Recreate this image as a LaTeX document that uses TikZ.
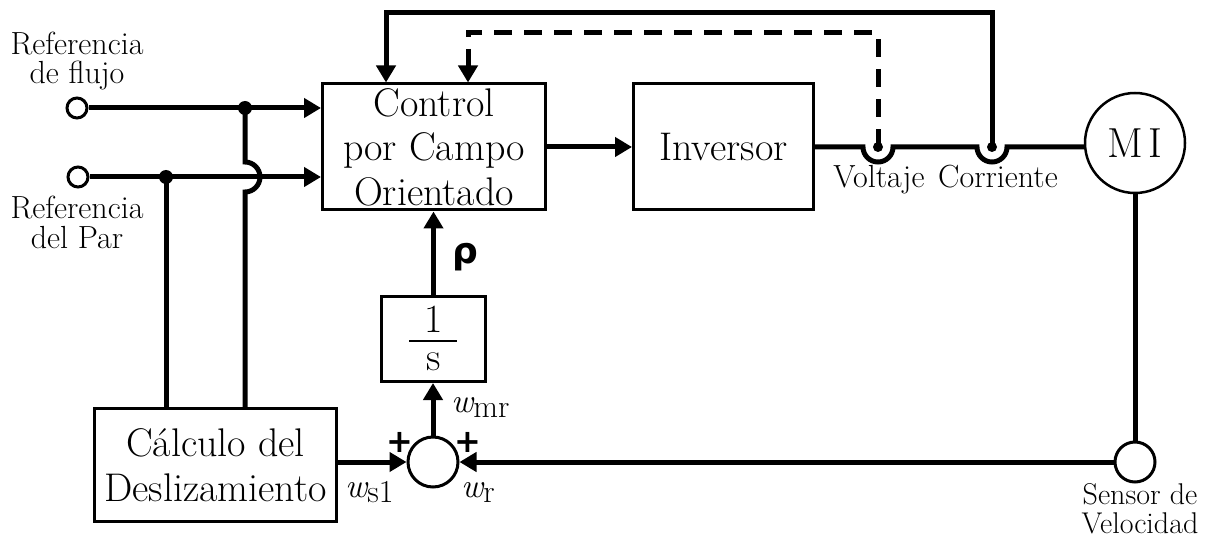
\documentclass[tikz,border=0pt]{standalone}
\usepackage{fontspec}
\newfontfamily\dv{DejaVu Sans}
\usetikzlibrary{arrows.meta,calc}
\tikzset{
 conn/.style={line width=5pt},
 arr/.style={conn,-{Triangle[length=17pt,width=19pt]}},
 blk/.style={draw,line width=3pt,rectangle,inner sep=0pt},
 big/.style={font=\fontsize{40pt}{44.5pt}\selectfont},
 small/.style={font=\fontsize{32pt}{29pt}\selectfont},
 term/.style={circle,draw,line width=3pt,minimum size=20pt,inner sep=0pt,fill=white},
 jdot/.style={circle,fill=black,minimum size=14pt,inner sep=0pt},
 sdot/.style={circle,fill=black,minimum size=10pt,inner sep=0pt},
 plussign/.style={font={\fontsize{32pt}{32pt}\selectfont\dv\bfseries},inner sep=0pt},
 wlbl/.style={anchor=base west,inner sep=0pt},
}
\newcommand\wlab[1]{{\fontsize{34pt}{34pt}\selectfont\itshape w}{\fontsize{32pt}{32pt}\selectfont\raisebox{-5pt}{#1}}}
\begin{document}
\begin{tikzpicture}[x=1pt,y=-1pt]
\useasboundingbox (0,0) rectangle (1216,548);
% blocks
\node[blk,big,minimum width=223pt,minimum height=126pt,align=center] (ctrl) at (434,147) {Control\\por Campo\\Orientado};
\node[blk,big,minimum width=180pt,minimum height=126pt] (inv) at (723.5,147) {Inversor};
\node[circle,draw,line width=2.5pt,minimum size=100pt,inner sep=0pt,font=\fontsize{42pt}{44pt}\selectfont] (mi) at (1135,143) {M\hspace{5pt}I};
\node[circle,draw,line width=3pt,minimum size=40pt,inner sep=0pt] (sens) at (1135,462) {};
\node[align=center,font=\fontsize{30pt}{29pt}\selectfont,inner sep=0pt] (senslbl) at (1140,509) {Sensor de\\Velocidad};
\node[circle,draw,line width=3pt,minimum size=50pt,inner sep=0pt] (sum) at (433,462) {};
\node[blk,minimum width=104pt,minimum height=85pt] (int) at (433.5,339) {};
\node[big,inner sep=0pt] (one) at (433.5,319) {1};
\node[big,inner sep=0pt] (ess) at (433.5,362) {s};
\coordinate (barL) at (409,341);
\coordinate (barR) at (457,341);
\draw[line width=2pt] (barL) -- (barR);
\node[blk,big,align=center,minimum width=242pt,minimum height=113pt] (calc) at (215.5,465) {Cálculo del\\Deslizamiento};
% terminals and labels
\node[term] (tf) at (77,108) {};
\node[term] (tp) at (78,177) {};
\node[small,align=center] (lf) at (77,61) {Referencia\\de flujo};
\node[small,align=center,font=\fontsize{32pt}{30pt}\selectfont] (lp) at (77,222) {Referencia\\del Par};
\node[jdot] (df) at (245,108) {};
\node[jdot] (dp) at (166,177) {};
\node[sdot] (vdot) at (878,147) {};
\node[sdot] (cdot) at (992,147) {};
% left connections
\draw[arr] (tf) -- (df.center) -- (df.center -| ctrl.west);
\draw[arr] (tp) -- (tp -| ctrl.west);
\draw[conn] (calc.north -| dp) -- (dp.center);
\draw[conn] (calc.north -| df) -- (245,192) arc(90:-90:15) -- (df.center);
% main chain
\draw[arr] (ctrl.east) -- (inv.west);
\draw[conn] (inv.east) -- (863,147) arc(180:0:15) -- (977,147) arc(180:0:15) -- (mi.west |- inv.east);
\node[small,anchor=base] (lv) at (879,188) {Voltaje};
\node[small,anchor=base] (lc) at (998,188) {Corriente};
% feedback
\coordinate (fbI) at (386,13);
\coordinate (fbV) at (468,33);
\draw[arr] (cdot.center) |- (fbI) -- (fbI |- ctrl.north);
\draw[arr,dash pattern=on 18pt off 12pt] (vdot.center) |- (fbV) -- (fbV |- ctrl.north);
% lower loop
\draw[conn] (mi.south) -- (sens.north);
\draw[arr] (sens.west) -- (sum.east);
\draw[arr] (calc.east |- sum.west) -- (sum.west);
\draw[arr] (sum.north) -- (sum.north |- int.south);
\draw[arr] (int.north) -- (int.north |- ctrl.south);
\node[font={\fontsize{36pt}{36pt}\selectfont\dv\bfseries}] (rho) at (465,257) {ρ};
\node[plussign] (p1) at (400,442) {+};
\node[plussign] (p2) at (468,442) {+};
\node[wlbl] (wmr) at (451,412) {\wlab{mr}};
\node[wlbl] (ws1) at (345,497) {\wlab{s1}};
\node[wlbl] (wr) at (461,497) {\wlab{r}};
\end{tikzpicture}
\end{document}
